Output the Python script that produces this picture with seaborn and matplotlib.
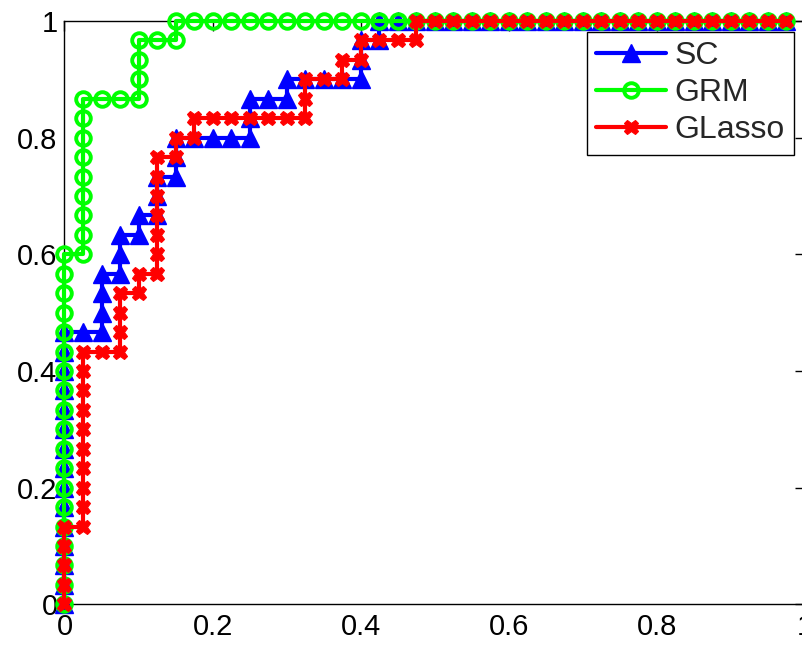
import numpy as np
import pandas as pd
import matplotlib
matplotlib.use("Agg")
import matplotlib.pyplot as plt
import seaborn as sns

# ROC curves: counts of false positives (out of N_NEG) and true positives (out of N_POS)
N_NEG = 40
N_POS = 30

sc_fp = [0, 0, 0, 0, 0, 0, 0, 0, 0, 0, 0, 0, 0, 0, 0, 1, 2, 2, 2, 2, 3, 3, 3, 4, 4,
         5, 5, 5, 6, 6, 6, 7, 8, 9, 10, 10, 10, 11, 12, 12, 13, 14, 15, 16, 16, 16,
         17, 17, 18, 19, 20, 21, 22, 23, 24, 25, 26, 27, 28, 29, 30, 31, 32, 33, 34,
         35, 36, 37, 38, 39]
sc_tp = [0, 1, 2, 3, 4, 5, 6, 7, 8, 9, 10, 11, 12, 13, 14, 14, 14, 15, 16, 17, 17,
         18, 19, 19, 20, 20, 21, 22, 22, 23, 24, 24, 24, 24, 24, 25, 26, 26, 26, 27,
         27, 27, 27, 27, 28, 29, 29, 30, 30, 30, 30, 30, 30, 30, 30, 30, 30, 30, 30,
         30, 30, 30, 30, 30, 30, 30, 30, 30, 30, 30]

grm_fp = [0, 0, 0, 0, 0, 0, 0, 0, 0, 0, 0, 0, 0, 0, 0, 0, 0, 0, 0, 1, 1, 1, 1, 1, 1,
          1, 1, 1, 2, 3, 4, 4, 4, 4, 5, 6, 6, 7, 8, 9, 10, 11, 12, 13, 14, 15, 16,
          17, 18, 19, 20, 21, 22, 23, 24, 25, 26, 27, 28, 29, 30, 31, 32, 33, 34,
          35, 36, 37, 38, 39]
grm_tp = [0, 1, 2, 3, 4, 5, 6, 7, 8, 9, 10, 11, 12, 13, 14, 15, 16, 17, 18, 18, 19,
          20, 21, 22, 23, 24, 25, 26, 26, 26, 26, 27, 28, 29, 29, 29, 30, 30, 30, 30,
          30, 30, 30, 30, 30, 30, 30, 30, 30, 30, 30, 30, 30, 30, 30, 30, 30, 30, 30,
          30, 30, 30, 30, 30, 30, 30, 30, 30, 30, 30]

gl_fp = [0, 0, 0, 0, 0, 1, 1, 1, 1, 1, 1, 1, 1, 1, 1, 2, 3, 3, 3, 3, 4, 4, 5, 5, 5,
         5, 5, 5, 5, 6, 6, 7, 7, 8, 9, 10, 11, 12, 13, 13, 13, 14, 15, 15, 16, 16,
         17, 18, 19, 19, 20, 21, 22, 23, 24, 25, 26, 27, 28, 29, 30, 31, 32, 33, 34,
         35, 36, 37, 38, 39]
gl_tp = [0, 1, 2, 3, 4, 4, 5, 6, 7, 8, 9, 10, 11, 12, 13, 13, 13, 14, 15, 16, 16,
         17, 17, 18, 19, 20, 21, 22, 23, 23, 24, 24, 25, 25, 25, 25, 25, 25, 25, 26,
         27, 27, 27, 28, 28, 29, 29, 29, 29, 30, 30, 30, 30, 30, 30, 30, 30, 30, 30,
         30, 30, 30, 30, 30, 30, 30, 30, 30, 30, 30]

tick_vals = [0, 0.2, 0.4, 0.6, 0.8, 1]
tick_labels = ["0", "0.2", "0.4", "0.6", "0.8", "1"]

sns.set_style("white")
plt.rcParams["font.family"] = ["Liberation Sans", "DejaVu Sans"]

fig = plt.figure(figsize=(8.03, 6.45), dpi=100)
ax = fig.add_axes([64.5 / 803, (645 - 604.3) / 645, 740.5 / 803, 583.3 / 645])

def frame(fp, tp):
    return pd.DataFrame({"fpr": np.array(fp) / N_NEG, "tpr": np.array(tp) / N_POS})

sns.lineplot(data=frame(sc_fp, sc_tp), x="fpr", y="tpr", ax=ax, estimator=None, sort=False,
             color="#0000ff", linewidth=3, marker="^", markersize=13.5,
             markeredgecolor="#0000ff", markeredgewidth=1, markerfacecolor="#0000ff",
             clip_on=False, zorder=3, label="SC")
sns.lineplot(data=frame(grm_fp, grm_tp), x="fpr", y="tpr", ax=ax, estimator=None, sort=False,
             color="#00ff00", linewidth=3, marker="o", markersize=10.5,
             markeredgecolor="#00ff00", markeredgewidth=2.8, markerfacecolor="none",
             clip_on=False, zorder=4, label="GRM")
sns.lineplot(data=frame(gl_fp, gl_tp), x="fpr", y="tpr", ax=ax, estimator=None, sort=False,
             color="#ff0000", linewidth=3, marker="X", markersize=10.5,
             markeredgecolor="#ff0000", markeredgewidth=0.8, markerfacecolor="#ff0000",
             clip_on=False, zorder=5, label="GLasso")

ax.set_xlim(0, 1)
ax.set_ylim(0, 1)
ax.set_xticks(tick_vals)
ax.set_xticklabels(tick_labels)
ax.set_yticks(tick_vals)
ax.set_yticklabels(tick_labels)
ax.set_xlabel("")
ax.set_ylabel("")
ax.tick_params(direction="in", length=7, width=1, top=True, right=True,
               labelsize=21, colors="black")
ax.tick_params(axis="x", pad=6)
ax.tick_params(axis="y", pad=5)
for s in ax.spines.values():
    s.set_color("black")
    s.set_linewidth(1)
    s.set_visible(True)

leg = ax.legend(loc="upper right", bbox_to_anchor=(0.9855, 0.9817), borderaxespad=0,
                fontsize=23, frameon=True, fancybox=False, edgecolor="black",
                framealpha=1, borderpad=0.3, labelspacing=0.22, handlelength=2.2,
                handletextpad=0.25)
leg.get_frame().set_linewidth(1)
leg.set_zorder(10)

fig.savefig("out.png", dpi=100)
